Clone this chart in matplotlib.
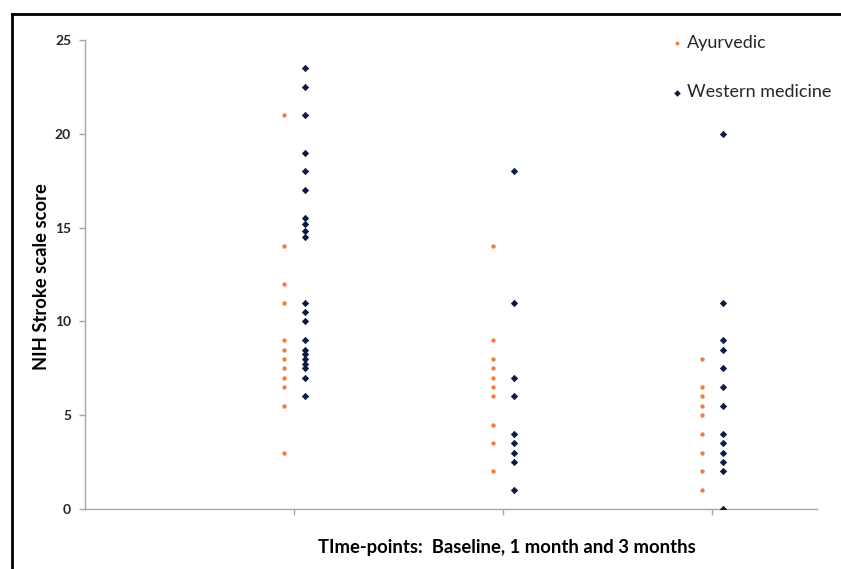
import matplotlib
matplotlib.use("Agg")
import matplotlib.pyplot as plt
from matplotlib.lines import Line2D

plt.rcParams['font.family'] = ['Lato', 'DejaVu Sans']

timepoints = [1, 2, 3]
tick_labels = ["", "", ""]

ayurvedic_baseline = [21, 14, 12, 11, 9, 8.5, 8, 7.5, 7, 6.5, 5.5, 3]
ayurvedic_1month = [14, 9, 8, 7.5, 7, 6.5, 6, 4.5, 3.5, 2]
ayurvedic_3months = [8, 6.5, 6, 5.5, 5, 4, 3, 2, 1]

western_baseline = [23.5, 22.5, 21, 19, 18, 17, 15.5, 15.2, 14.8, 14.5,
                    11, 10.5, 10, 9, 8.5, 8.25, 8, 7.75, 7.5, 7, 6]
western_1month = [18, 11, 7, 6, 4, 3.5, 3, 2.5, 1]
western_3months = [20, 11, 9, 8.5, 7.5, 6.5, 5.5, 4, 3.5, 3, 2.5, 2, 0]

ayur_groups = [ayurvedic_baseline, ayurvedic_1month, ayurvedic_3months]
west_groups = [western_baseline, western_1month, western_3months]

orange = "#F07E3C"
navy = "#0B1A42"
axis_gray = "#A6A6A6"
text_col = "#262626"

fig = plt.figure(figsize=(8.41, 5.69), dpi=100)
ax = fig.add_axes([85/841, 1-509/569, (817-85)/841, (509-40)/569])

offset = 0.05
first = True
for t, ag, wg in zip(timepoints, ayur_groups, west_groups):
    ax.scatter([t - offset]*len(ag), ag, s=10, marker='o', color=orange,
               linewidths=0, label="Ayurvedic" if first else None, zorder=3)
    ax.scatter([t + offset]*len(wg), wg, s=14, marker='D', color=navy,
               linewidths=0, label="Western medicine" if first else None, zorder=3)
    first = False

ax.set_xlim(0, 3.5)
ax.set_ylim(0, 25)
ax.set_yticks([0, 5, 10, 15, 20, 25])
ax.set_xticks(timepoints)
ax.set_xticklabels(tick_labels)

for side in ['top', 'right']:
    ax.spines[side].set_visible(False)
for side in ['left', 'bottom']:
    ax.spines[side].set_color(axis_gray)
    ax.spines[side].set_linewidth(1.0)
ax.tick_params(axis='both', colors=axis_gray, length=4, width=1.0, direction='out')
ax.tick_params(axis='y', labelcolor=text_col, labelsize=10, pad=6)
for lbl in ax.get_yticklabels():
    lbl.set_fontweight('bold')

fig.text(42/841, 1-277/569, "NIH Stroke scale score", fontsize=13.2,
         fontweight='bold', color='black', rotation=90, ha='center', va='center')
fig.text(507/841, 1-547/569, "TIme-points:  Baseline, 1 month and 3 months",
         fontsize=13.3, fontweight='bold', color='black', ha='center', va='center')

leg = ax.legend(loc='upper left', frameon=False, fontsize=13,
                labelspacing=1.85, handletextpad=0.35, handlelength=0.5,
                borderpad=0.0, borderaxespad=0.0, markerscale=0.9)
leg.set_bbox_to_anchor((672/841, 1-35/569), transform=fig.transFigure)
for txt in leg.get_texts():
    txt.set_color(text_col)

# partial frame (left and top) of the original figure
fig.add_artist(Line2D([12/841, 12/841], [0, 1-14/569], transform=fig.transFigure,
                      color='black', linewidth=2))
fig.add_artist(Line2D([12/841, 1], [1-14/569, 1-14/569], transform=fig.transFigure,
                      color='black', linewidth=2))

fig.savefig("out.png", dpi=100)
